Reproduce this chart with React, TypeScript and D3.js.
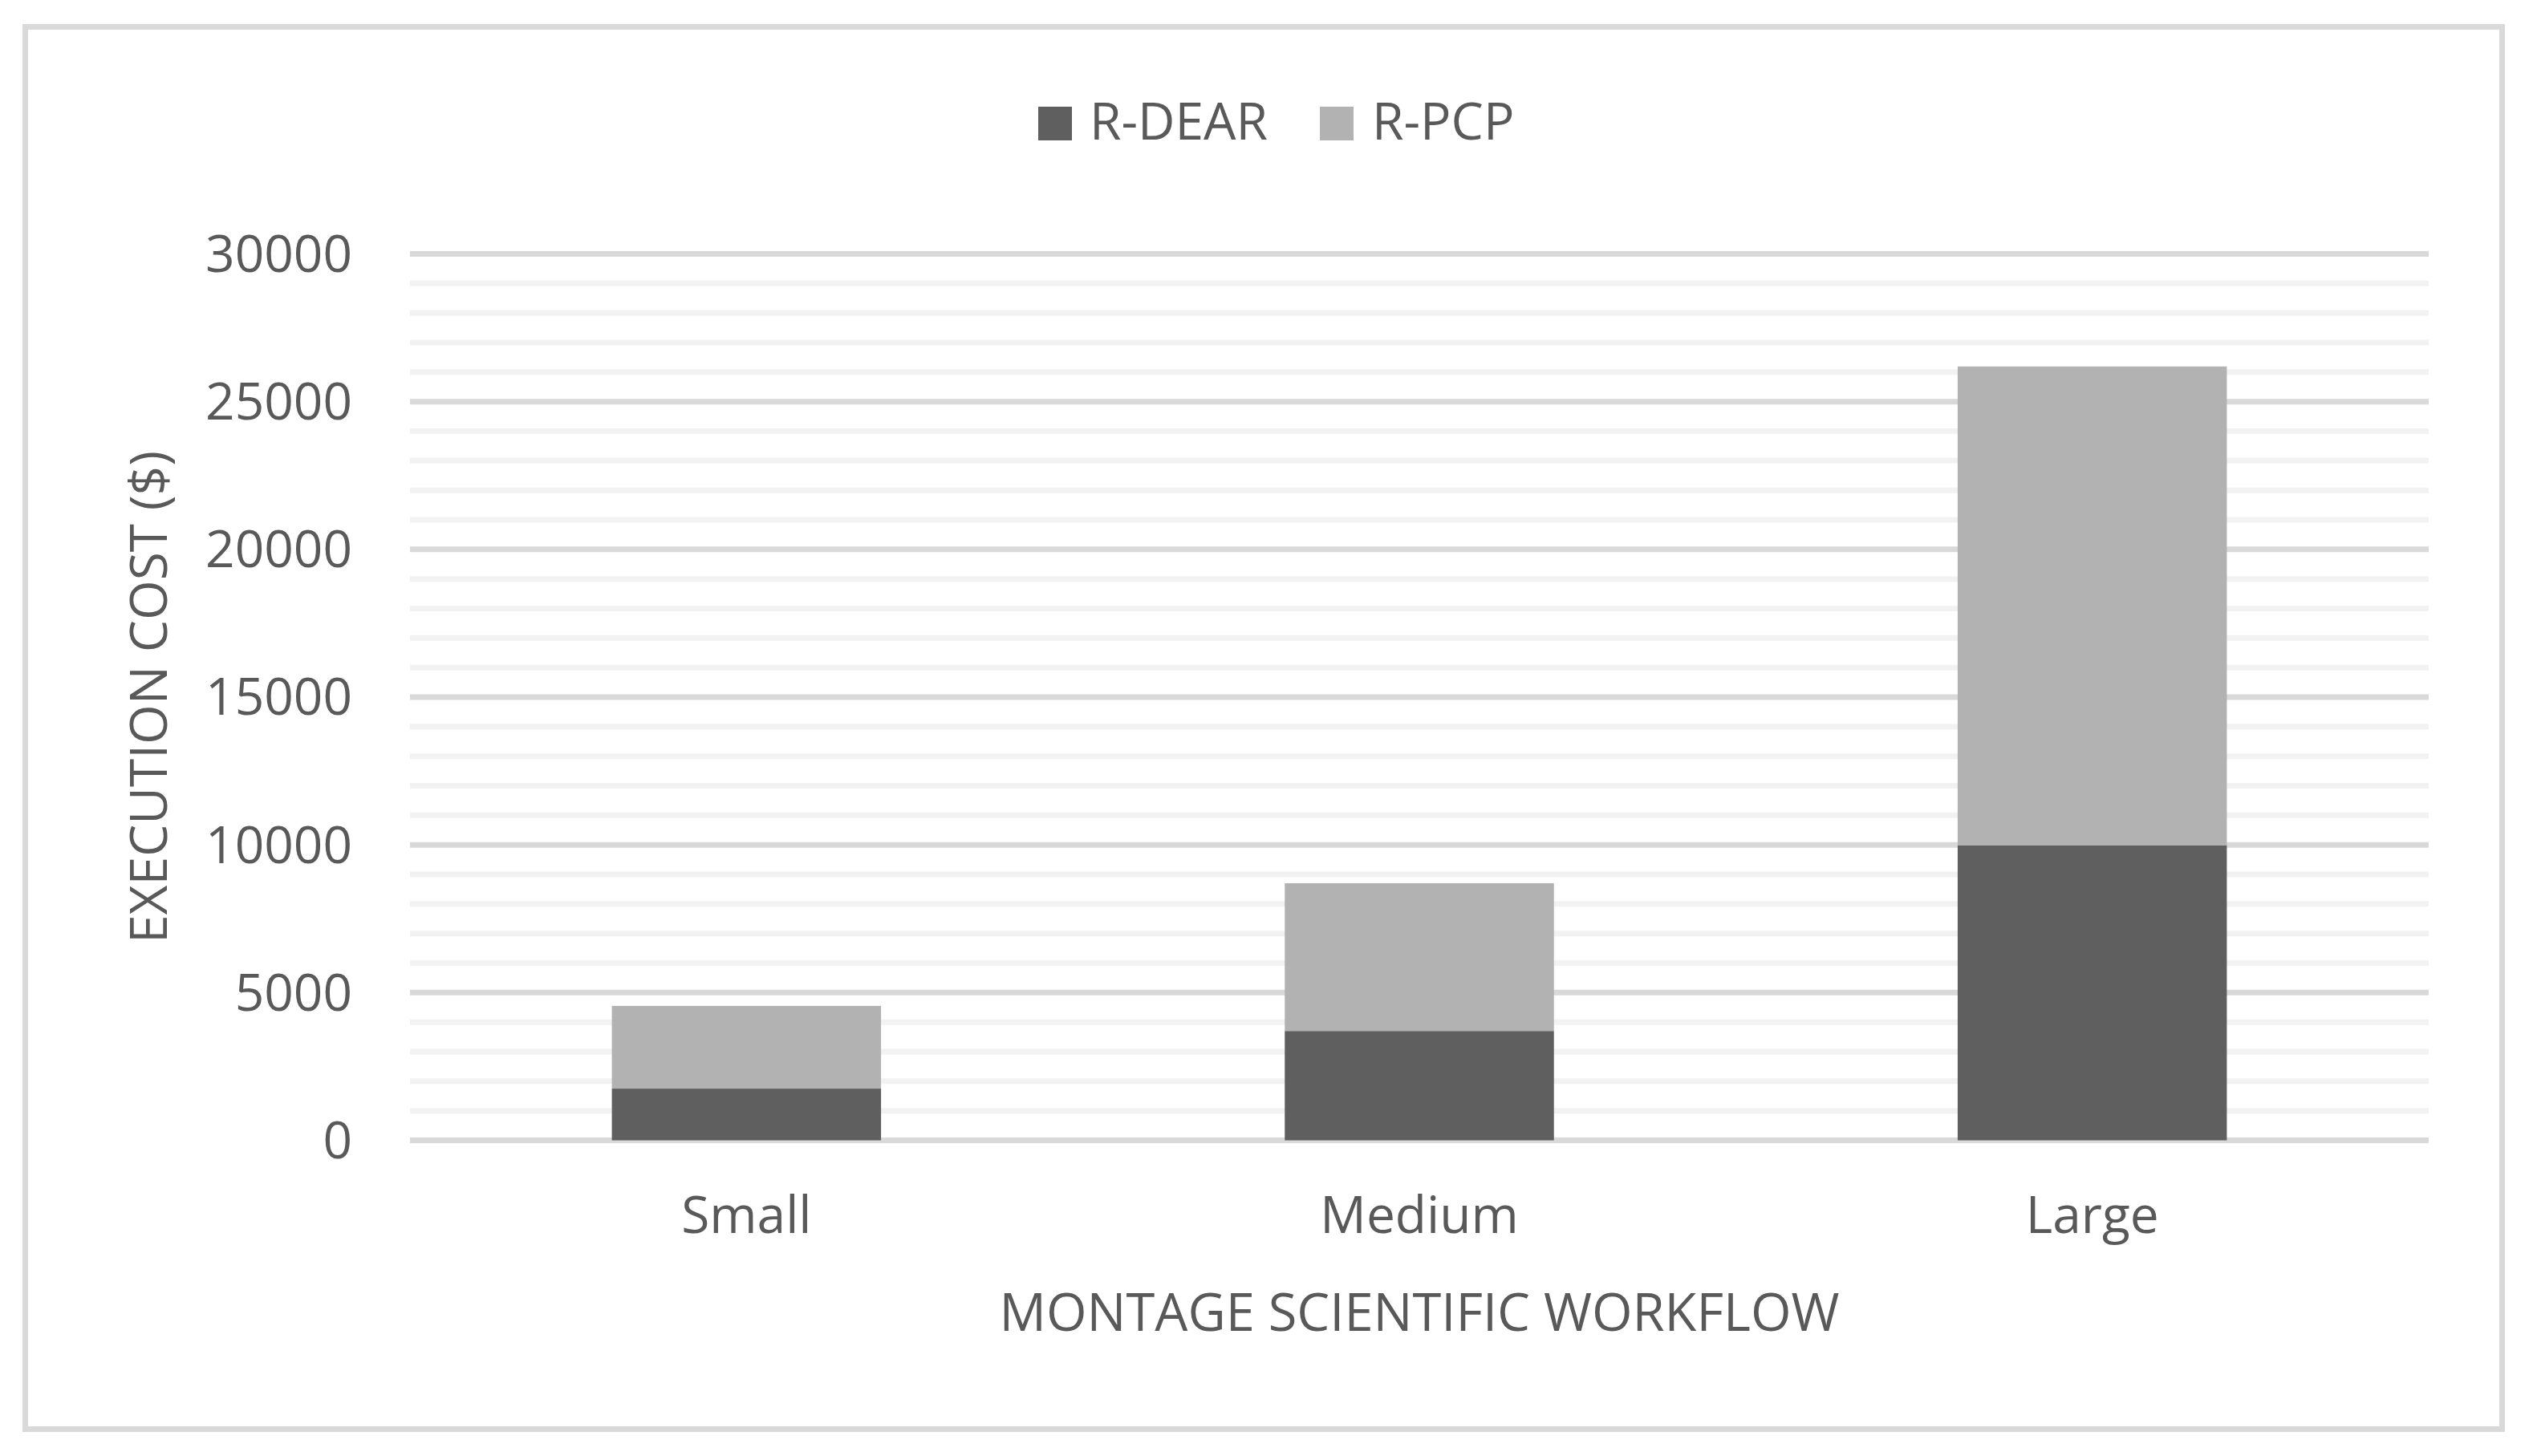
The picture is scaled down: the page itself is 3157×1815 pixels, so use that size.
import React from 'react';
import * as d3 from 'd3';

// values
const categories = ['Small', 'Medium', 'Large'];
const seriesNames = ['R-DEAR', 'R-PCP'];
const rDear = [1750, 3700, 9980];
const rPcp = [2800, 5000, 16210];
const yTicks = [0, 5000, 10000, 15000, 20000, 25000, 30000];

const W = 3157;
const H = 1815;
const colors = ['#5f5f5f', '#b2b2b2'];
const textColor = '#595959';
const font = '"Open Sans", "DejaVu Sans", sans-serif';

const App = () => {
  const left = 511;
  const right = 3027;
  const top = 316.5;
  const bottom = 1421.5;

  const x = d3.scaleBand().domain(categories).range([left, right]).paddingInner(0.6).paddingOuter(0.3);
  const y = d3.scaleLinear().domain([0, 30000]).range([bottom, top]);

  const rows = categories.map((c, i) => ({ cat: c, 'R-DEAR': rDear[i], 'R-PCP': rPcp[i] }));
  const stacked = d3.stack().keys(seriesNames)(rows as any);

  const minor = y.ticks(30).filter(t => t % 5000 !== 0);

  // legend layout
  const legendItems = [
    { name: seriesNames[0], sx: 1294, tx: 1358 },
    { name: seriesNames[1], sx: 1645, tx: 1710 },
  ];

  return (
    <svg width={W} height={H} style={{ position: 'absolute', left: 0, top: 0, background: '#fff' }}
      fontFamily={font}>
      <rect x={0} y={0} width={W} height={H} fill="#fff" />
      <rect x={31.5} y={33.5} width={3118.5 - 31.5} height={1781.5 - 33.5} fill="none" stroke="#d9d9d9" strokeWidth={7} />

      {/* minor gridlines */}
      {minor.map(t => (
        <line key={'m' + t} x1={left} x2={right} y1={y(t)} y2={y(t)} stroke="#f2f2f2" strokeWidth={7} />
      ))}
      {/* major gridlines */}
      {yTicks.map(t => (
        <line key={'g' + t} x1={left} x2={right} y1={y(t)} y2={y(t)} stroke="#d9d9d9" strokeWidth={7} />
      ))}

      {/* stacked bars */}
      {stacked.map((s, si) => (
        <g key={s.key} fill={colors[si]}>
          {s.map((d: any, i) => (
            <rect key={i} x={x(categories[i])} width={x.bandwidth()} y={y(d[1])} height={y(d[0]) - y(d[1])} />
          ))}
        </g>
      ))}

      {/* y tick labels */}
      {yTicks.map(t => (
        <text key={'t' + t} x={439} y={y(t)} dy="0.35em" textAnchor="end" fontSize={64} fill={textColor}>
          {t}
        </text>
      ))}

      {/* x tick labels */}
      {categories.map(c => (
        <text key={c} x={(x(c) as number) + x.bandwidth() / 2} y={1537} textAnchor="middle" fontSize={64} fill={textColor}>
          {c}
        </text>
      ))}

      {/* axis titles */}
      <text x={(left + right) / 2} y={1659} textAnchor="middle" fontSize={65} fill={textColor}>
        MONTAGE SCIENTIFIC WORKFLOW
      </text>
      <text transform={`translate(208, ${(top + bottom) / 2}) rotate(-90)`} textAnchor="middle" fontSize={64} fill={textColor}>
        EXECUTION COST ($)
      </text>

      {/* legend */}
      {legendItems.map((l, i) => (
        <g key={l.name}>
          <rect x={l.sx} y={133} width={42} height={42} fill={colors[i]} />
          <text x={l.tx} y={174} fontSize={64} fill={textColor}>{l.name}</text>
        </g>
      ))}
    </svg>
  );
};

export default App;
